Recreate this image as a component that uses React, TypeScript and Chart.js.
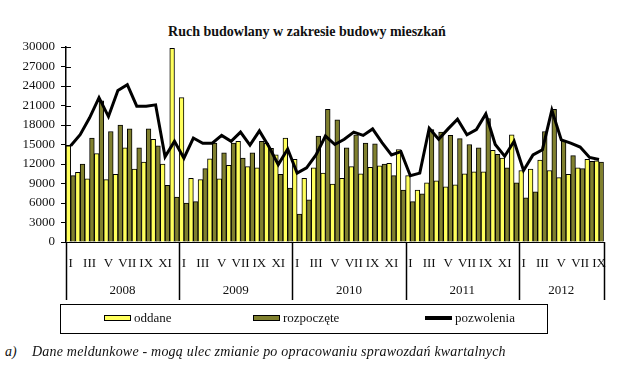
import React, { useEffect, useRef } from 'react';
import { Chart, registerables } from 'chart.js';

Chart.register(...registerables);

const years = ['2008', '2009', '2010', '2011', '2012'];
const monthsPerYear = [12, 12, 12, 12, 9];
const monthLabels = ['I', 'II', 'III', 'IV', 'V', 'VI', 'VII', 'VIII', 'IX', 'X', 'XI', 'XII'];

const oddane = [
  14800, 10700, 9700, 13600, 9600, 10400, 14500, 11200, 12300, 15800, 12000, 29800,
  22200, 9800, 9600, 12800, 9700, 11800, 15500, 11600, 11400, 15200, 13400, 16000,
  12700, 9800, 11400, 10600, 8900, 9800, 11600, 10500, 11500, 11700, 12100, 14200,
  10200, 8000, 9100, 9400, 8500, 8800, 10500, 10800, 10800, 14100, 12900, 16500,
  11000, 11200, 12600, 11000, 9900, 10400, 11400, 12700, 12500,
];

const rozpoczete = [
  10200, 12000, 16000, 21700, 17000, 18000, 17400, 14500, 17400, 14800, 8700, 6900,
  6000, 6200, 11300, 15200, 13700, 15200, 12900, 13700, 15500, 14400, 10400, 8300,
  4300, 6500, 16300, 20400, 18800, 14500, 16500, 15200, 15100, 12000, 10200, 8000,
  6200, 7400, 17300, 16900, 16400, 15900, 15000, 14500, 19000, 13500, 11400, 9100,
  6800, 7700, 17000, 20400, 15600, 13300, 11300, 12400, 12300,
];

const pozwolenia = [
  14800, 16500, 19100, 22200, 19300, 23300, 24200, 20900, 20900, 21100, 13100, 15500,
  12900, 16000, 15200, 15200, 16400, 15500, 16900, 14900, 17100, 14700, 11900, 14300,
  10600, 11400, 13400, 16300, 15000, 15800, 16900, 16400, 17400, 15300, 13400, 13900,
  10200, 10600, 17500, 15800, 17400, 18900, 16500, 17300, 19700, 15000, 13200, 15500,
  11000, 13400, 14200, 20300, 15700, 15200, 14600, 13000, 12700,
];

const seriesNames = ['oddane', 'rozpoczęte', 'pozwolenia'];
const yMin = 0;
const yMax = 30000;
const yStep = 3000;

const titleText = 'Ruch budowlany w zakresie budowy mieszkań';
const footnoteMark = 'a)';
const footnoteText = 'Dane meldunkowe - mogą ulec zmianie po opracowaniu sprawozdań kwartalnych';

const categories: string[] = [];
years.forEach((yr, i) => {
  for (let m = 0; m < monthsPerYear[i]; m++) categories.push(monthLabels[m] + ' ' + yr);
});

const YELLOW = '#ffff5c';
const OLIVE = '#80802e';
const FONT = '"Liberation Serif", "Times New Roman", serif';

const yearPlugin = {
  id: 'yearRow',
  beforeDatasetsDraw(chart: any) {
    const { ctx } = chart;
    const x = chart.scales.x;
    const y = chart.scales.y;
    ctx.save();
    ctx.strokeStyle = '#000';
    ctx.lineWidth = 1;
    y.ticks.forEach((_t: any, i: number) => {
      const py = Math.round(y.getPixelForTick(i)) + 0.5;
      ctx.beginPath();
      ctx.moveTo(x.left, py);
      ctx.lineTo(x.left + 5, py);
      ctx.stroke();
    });
    ctx.restore();
  },
  afterDraw(chart: any) {
    const { ctx } = chart;
    const x = chart.scales.x;
    const y = chart.scales.y;
    const w = (x.right - x.left) / categories.length;
    const bounds = [0];
    let acc = 0;
    monthsPerYear.forEach((m) => {
      acc += m;
      bounds.push(acc);
    });
    ctx.save();
    ctx.strokeStyle = '#000';
    ctx.lineWidth = 1.5;
    bounds.forEach((b) => {
      const px = Math.round(x.left + b * w) + 0.5;
      ctx.beginPath();
      ctx.moveTo(px, y.bottom);
      ctx.lineTo(px, y.bottom + 58);
      ctx.stroke();
    });
    ctx.fillStyle = '#111';
    ctx.font = '13px ' + FONT;
    ctx.textAlign = 'center';
    ctx.textBaseline = 'middle';
    years.forEach((yr, i) => {
      const cx = x.left + ((bounds[i] + bounds[i + 1]) / 2) * w;
      ctx.fillText(yr, cx, y.bottom + 49);
    });
    ctx.restore();
  },
};

export default function App() {
  const ref = useRef<HTMLCanvasElement | null>(null);

  useEffect(() => {
    if (!ref.current) return;
    Chart.defaults.font.family = FONT;
    Chart.defaults.color = '#111';
    const chart = new Chart(ref.current, {
      type: 'bar',
      data: {
        labels: categories,
        datasets: [
          {
            type: 'bar',
            label: seriesNames[0],
            data: oddane,
            backgroundColor: YELLOW,
            borderColor: '#000',
            borderWidth: 1,
            order: 1,
          },
          {
            type: 'bar',
            label: seriesNames[1],
            data: rozpoczete,
            backgroundColor: OLIVE,
            borderColor: '#000',
            borderWidth: 1,
            order: 1,
          },
          {
            type: 'line',
            label: seriesNames[2],
            data: pozwolenia,
            borderColor: '#000',
            borderWidth: 3,
            pointRadius: 0,
            tension: 0,
            fill: false,
            order: 0,
          } as any,
        ],
      },
      options: {
        animation: false,
        responsive: false,
        maintainAspectRatio: false,
        layout: { padding: { top: 47, right: 14, bottom: 0, left: 0 } },
        plugins: {
          legend: { display: false },
          title: { display: false },
          tooltip: { enabled: false },
        },
        datasets: {
          bar: { categoryPercentage: 1, barPercentage: 1 },
        } as any,
        scales: {
          x: {
            offset: true,
            grid: { display: false, drawTicks: false },
            border: { display: true, color: '#000', width: 1 },
            ticks: {
              autoSkip: false,
              maxRotation: 0,
              minRotation: 0,
              padding: 14,
              font: { size: 13, family: FONT },
              color: '#111',
              callback: (_v: any, index: number) => {
                const m = categories[index].split(' ')[0];
                const mi = monthLabels.indexOf(m);
                return mi % 2 === 0 ? m : '';
              },
            },
            afterFit: (scale: any) => {
              scale.height = 68;
            },
          },
          y: {
            min: yMin,
            max: yMax,
            grid: { display: true, drawOnChartArea: false, drawTicks: true, tickLength: 5, color: '#000' },
            border: { display: true, color: '#000', width: 1.5 },
            ticks: {
              stepSize: yStep,
              padding: 6,
              font: { size: 13, family: FONT },
              color: '#111',
              callback: (v: any) => String(v),
            },
            afterFit: (scale: any) => {
              scale.width = 66;
            },
          },
        },
      },
      plugins: [yearPlugin],
    });
    return () => chart.destroy();
  }, []);

  const legendText: React.CSSProperties = {
    position: 'absolute',
    top: 310,
    fontFamily: FONT,
    fontSize: 13,
    color: '#111',
    lineHeight: '16px',
    whiteSpace: 'nowrap',
  };

  const footStyle: React.CSSProperties = {
    position: 'absolute',
    top: 343,
    fontFamily: FONT,
    fontStyle: 'italic',
    fontSize: 14,
    lineHeight: '17px',
    color: '#111',
    whiteSpace: 'nowrap',
  };

  return (
    <div style={{ position: 'absolute', left: 0, top: 0, width: 620, height: 390, background: '#fff', overflow: 'hidden' }}>
      <div
        style={{
          position: 'absolute',
          left: 0,
          width: 614,
          top: 23,
          textAlign: 'center',
          fontFamily: FONT,
          fontWeight: 'bold',
          fontSize: 14,
          lineHeight: '18px',
          color: '#111',
          whiteSpace: 'nowrap',
        }}
      >
        {titleText}
      </div>
      <canvas ref={ref} width={620} height={310} style={{ position: 'absolute', left: 0, top: 0 }} />
      <div
        style={{
          position: 'absolute',
          left: 60,
          top: 304,
          width: 488,
          height: 30,
          border: '1.5px solid #000',
          boxSizing: 'border-box',
        }}
      />
      <div style={{ position: 'absolute', left: 104, top: 315, width: 27, height: 6, background: YELLOW, border: '1px solid #000', boxSizing: 'border-box' }} />
      <div style={{ ...legendText, left: 134 }}>{seriesNames[0]}</div>
      <div style={{ position: 'absolute', left: 253, top: 315, width: 27, height: 6, background: OLIVE, border: '1px solid #000', boxSizing: 'border-box' }} />
      <div style={{ ...legendText, left: 283 }}>{seriesNames[1]}</div>
      <div style={{ position: 'absolute', left: 425, top: 316, width: 27, height: 4, background: '#000' }} />
      <div style={{ ...legendText, left: 455 }}>{seriesNames[2]}</div>
      <div style={{ ...footStyle, left: 5 }}>{footnoteMark}</div>
      <div style={{ ...footStyle, left: 32, letterSpacing: '0.2px' }}>{footnoteText}</div>
    </div>
  );
}
